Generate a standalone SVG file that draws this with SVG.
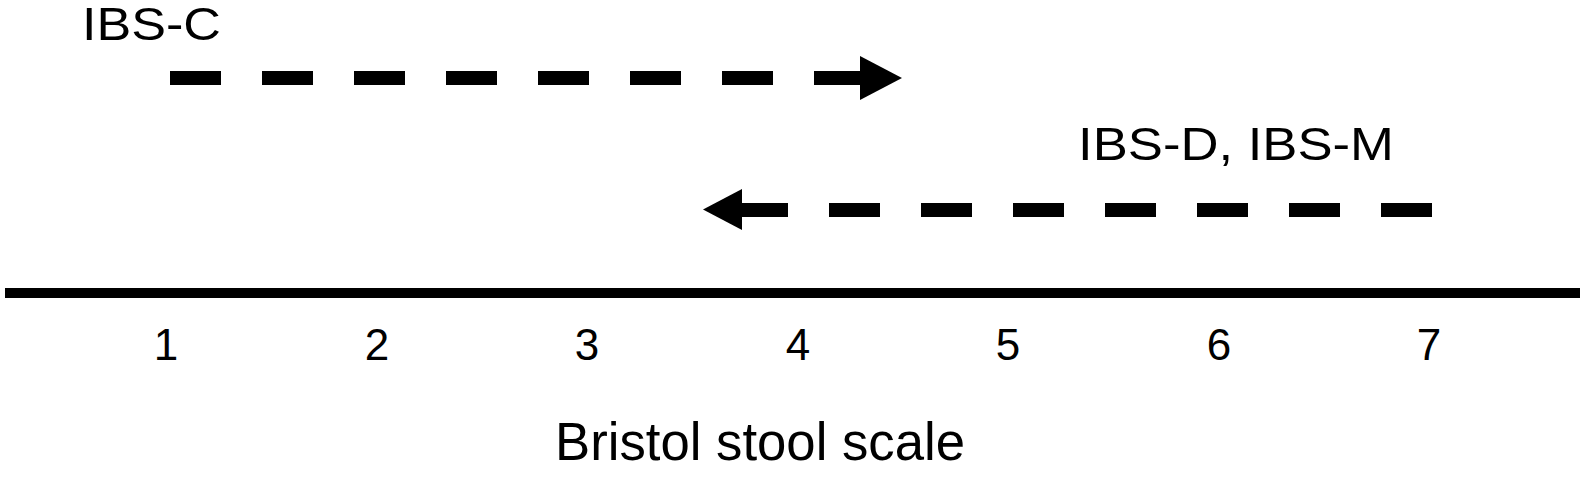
<svg xmlns="http://www.w3.org/2000/svg" width="1586" height="485" viewBox="0 0 1586 485">
<style>
text{font-family:"Liberation Sans",Arial,sans-serif;fill:#000}
.lbl{font-size:46px}
.num{font-size:44px;text-anchor:middle}
.dash{stroke:#000;stroke-width:14;fill:none;stroke-dasharray:51 41}
</style>
<rect width="1586" height="485" fill="#fff"/>
<g id="label-ibs-c"><text class="lbl" x="82" y="39.5" textLength="139" lengthAdjust="spacingAndGlyphs">IBS-C</text></g>
<g id="label-ibs-dm"><text class="lbl" x="1078" y="160" textLength="316" lengthAdjust="spacingAndGlyphs">IBS-D, IBS-M</text></g>
<g id="axis">
<line x1="5" y1="293" x2="1580" y2="293" stroke="#000" stroke-width="10"/>
<text class="num" x="166" y="359.5">1</text>
<text class="num" x="377" y="359.5">2</text>
<text class="num" x="587" y="359.5">3</text>
<text class="num" x="798" y="359.5">4</text>
<text class="num" x="1008" y="359.5">5</text>
<text class="num" x="1219" y="359.5">6</text>
<text class="num" x="1429" y="359.5">7</text>
</g>
<g id="axis-title"><text x="555" y="460" font-size="53" textLength="410" lengthAdjust="spacingAndGlyphs">Bristol stool scale</text></g>
<g id="connectors">
<line class="dash" x1="170" y1="78" x2="862" y2="78"/>
<polygon points="860,56 902,78 860,100" fill="#000"/>
<line class="dash" x1="1432" y1="210" x2="740" y2="210"/>
<polygon points="742,189 703,209.5 742,230" fill="#000"/>
</g>
</svg>
